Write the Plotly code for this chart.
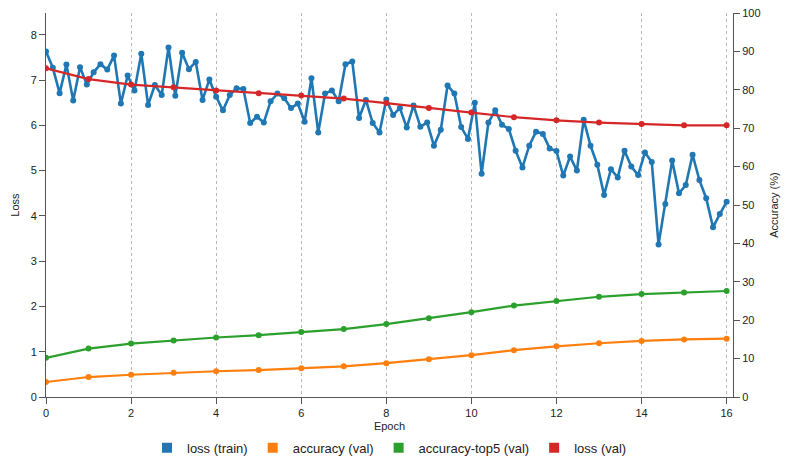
import numpy as np
import plotly.graph_objects as go

# Training loss logged every 0.16 epoch (101 samples over 16 epochs)
train_epochs = np.linspace(0, 16, 101)
train_loss = [
    7.63, 7.27, 6.71, 7.34, 6.55, 7.28, 6.90, 7.17, 7.35, 7.23,
    7.54, 6.48, 7.10, 6.77, 7.58, 6.45, 6.89, 6.67, 7.72, 6.65,
    7.60, 7.24, 7.40, 6.56, 7.01, 6.63, 6.33, 6.67, 6.82, 6.80,
    6.05, 6.19, 6.06, 6.53, 6.70, 6.60, 6.38, 6.48, 6.08, 7.04,
    5.84, 6.70, 6.77, 6.53, 7.35, 7.41, 6.16, 6.56, 6.05, 5.84,
    6.57, 6.23, 6.38, 5.95, 6.44, 5.97, 6.06, 5.55, 5.90, 6.88,
    6.70, 5.96, 5.70, 6.50, 4.93, 6.06, 6.33, 6.01, 5.92, 5.44,
    5.07, 5.55, 5.86, 5.81, 5.49, 5.43, 4.89, 5.31, 5.00, 6.12,
    5.55, 5.13, 4.46, 5.03, 4.85, 5.44, 5.09, 4.90, 5.40, 5.19,
    3.37, 4.26, 5.22, 4.50, 4.68, 5.35, 4.79, 4.39, 3.75, 4.04,
    4.31,
]

# Validation metrics, one per epoch
val_epochs = list(range(17))
val_accuracy = [3.9, 5.2, 5.8, 6.3, 6.7, 7.0, 7.5, 8.0, 8.8, 9.8,
                10.9, 12.2, 13.2, 14.0, 14.6, 15.0, 15.2]
val_accuracy_top5 = [10.2, 12.6, 13.9, 14.7, 15.5, 16.1, 16.9, 17.7, 19.0, 20.5,
                     22.1, 23.8, 25.0, 26.1, 26.8, 27.2, 27.6]
val_loss = [7.26, 7.02, 6.90, 6.84, 6.77, 6.71, 6.66, 6.59, 6.49, 6.38,
            6.28, 6.18, 6.11, 6.06, 6.03, 6.00, 6.00]

x_ticks = list(range(0, 17, 2))

BLUE, ORANGE, GREEN, RED = "#1f77b4", "#ff7f0e", "#2ca02c", "#d62728"
FONT = "Liberation Sans, Arial, sans-serif"
TXT = "#222"
AXIS = "#555"

fig = go.Figure()

series = [
    ("loss (train)", train_epochs, train_loss, BLUE, "y", 2.6),
    ("accuracy (val)", val_epochs, val_accuracy, ORANGE, "y2", 2.2),
    ("accuracy-top5 (val)", val_epochs, val_accuracy_top5, GREEN, "y2", 2.2),
    ("loss (val)", val_epochs, val_loss, RED, "y", 2.2),
]

for name, xs, ys, color, axis, lw in series:
    fig.add_trace(go.Scatter(
        x=xs, y=ys, name=name, yaxis=axis, mode="lines+markers",
        line=dict(color=color, width=lw),
        marker=dict(color=color, size=6),
        showlegend=False, hoverinfo="x+y",
    ))

# Square swatches for the legend
for name, _, _, color, axis, _ in series:
    fig.add_trace(go.Scatter(
        x=[None], y=[None], name=name, yaxis=axis, mode="markers",
        marker=dict(color=color, size=10, symbol="square"),
        showlegend=True,
    ))

fig.update_layout(
    width=790, height=458,
    margin=dict(l=46, r=57, t=13, b=61, autoexpand=False),
    plot_bgcolor="white", paper_bgcolor="white",
    font=dict(family=FONT, size=11, color=TXT),
    xaxis=dict(
        range=[0, 16.15], tickvals=x_ticks, ticks="outside", ticklen=6,
        tickcolor=AXIS, showline=True, linecolor=AXIS, linewidth=1,
        showgrid=True, gridcolor="#b8b8b8", griddash="3px,3px", gridwidth=1,
        zeroline=False,
        title=dict(text="Epoch", font=dict(size=11), standoff=4),
    ),
    yaxis=dict(
        range=[0, 8.48], dtick=1, ticks="outside", ticklen=6,
        tickcolor=AXIS, showline=True, linecolor=AXIS, linewidth=1,
        showgrid=False, zeroline=False,
        title=dict(text="Loss", font=dict(size=11), standoff=8),
    ),
    yaxis2=dict(
        range=[0, 100], dtick=10, overlaying="y", side="right",
        ticks="outside", ticklen=6, tickcolor=AXIS,
        showline=True, linecolor=AXIS, linewidth=1,
        showgrid=False, zeroline=False,
        title=dict(text="Accuracy (%)", font=dict(size=11), standoff=10),
    ),
    legend=dict(
        orientation="h", x=0.5, xanchor="center", y=-0.093, yanchor="top",
        font=dict(size=13, color=TXT), itemwidth=30,
    ),
)

fig.write_html("out.html")
